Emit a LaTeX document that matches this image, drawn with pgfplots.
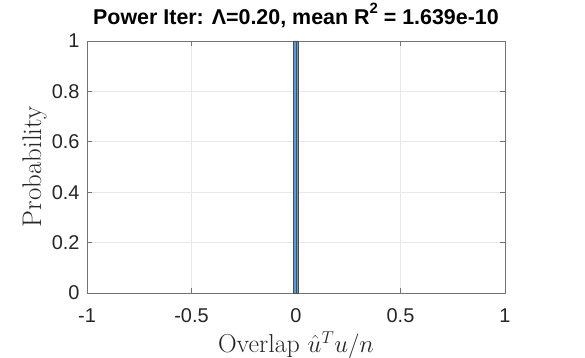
\documentclass[border=0pt]{standalone}
\usepackage{pgfplots}
\pgfplotsset{compat=1.18}
\usepackage{fontspec}
\setsansfont{Liberation Sans}
\definecolor{barblue}{RGB}{91,155,208}
\definecolor{axgray}{RGB}{115,115,115}
\definecolor{gridgray}{RGB}{232,232,232}
\definecolor{txt}{RGB}{38,38,38}
\begin{document}
\begin{tikzpicture}[x=1bp,y=1bp]
\begin{axis}[
  scale only axis,
  width=418bp, height=252bp,
  xmin=-1, xmax=1, ymin=0, ymax=1,
  xtick={-1,-0.5,0,0.5,1},
  ytick={0,0.2,0.4,0.6,0.8,1},
  xticklabels={-1,-0.5,0,0.5,1},
  yticklabels={0,0.2,0.4,0.6,0.8,1},
  grid=major,
  major grid style={gridgray, line width=0.6bp},
  axis line style={axgray, line width=0.8bp},
  tick style={axgray, line width=0.8bp},
  major tick length=5bp,
  tick align=inside,
  ticklabel style={font=\fontsize{20}{20}\selectfont\sffamily, text=txt},
  xticklabel style={anchor=base, yshift=-29bp, inner sep=1bp},
  yticklabel style={xshift=-4bp},
  title={\fontsize{21.5}{21.5}\selectfont\sffamily\bfseries Power Iter: Λ=0.20, mean R\raisebox{0.55em}{\fontsize{15}{15}\selectfont 2} = 1.639e-10},
  title style={at={(axis description cs:0.5,1.04)}, anchor=base, text=black},
  xlabel={Overlap $\hat{u}^T u/n$},
  ylabel={Probability},
  xlabel style={font=\fontsize{26}{26}\selectfont, text=txt, at={(axis description cs:0.5,-0.236)}, anchor=base, inner sep=0.5bp},
  ylabel style={font=\fontsize{27}{27}\selectfont, text=txt, at={(axis description cs:-0.11,0.5)}, anchor=base, rotate=0},
]
\addplot[ybar interval, fill=barblue, draw=black!70, line width=0.4bp] coordinates {(-0.013,1) (0,1) (0.012,1)};
\end{axis}
\pgfresetboundingbox
\path[use as bounding box] ([xshift=-87bp,yshift=-65bp]current axis.south west) rectangle ([xshift=80bp,yshift=41bp]current axis.north east);
\end{tikzpicture}
\end{document}
